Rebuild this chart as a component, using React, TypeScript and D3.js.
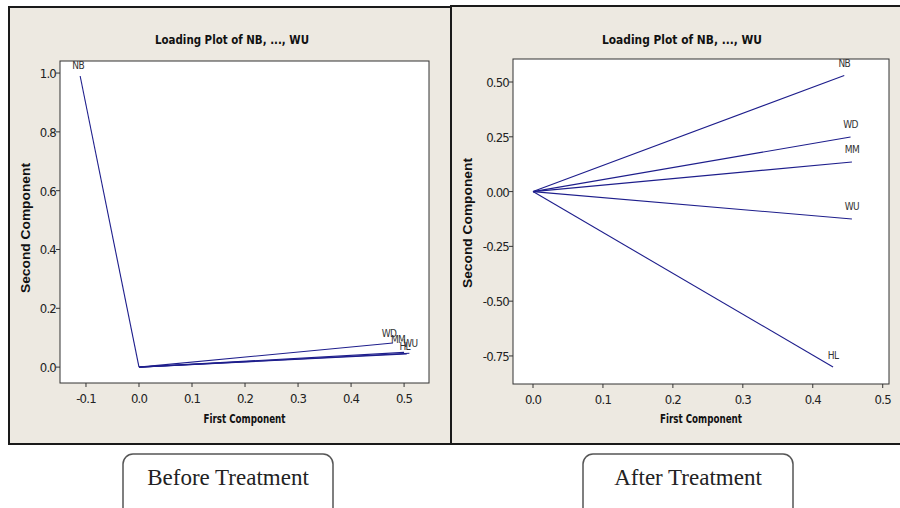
import React from "react";
import * as d3 from "d3";

// variable names (loading vectors)
const vars = ["NB", "WD", "MM", "WU", "HL"];

// before treatment loadings
const beforePC1 = [-0.111, 0.479, 0.5, 0.51, 0.505];
const beforePC2 = [0.99, 0.082, 0.05, 0.047, 0.045];

// after treatment loadings
const afterPC1 = [0.445, 0.454, 0.456, 0.456, 0.429];
const afterPC2 = [0.53, 0.249, 0.135, -0.125, -0.8];

const beforeXTicks = [-0.1, 0.0, 0.1, 0.2, 0.3, 0.4, 0.5];
const beforeYTicks = [0.0, 0.2, 0.4, 0.6, 0.8, 1.0];
const afterXTicks = [0.0, 0.1, 0.2, 0.3, 0.4, 0.5];
const afterYTicks = [-0.75, -0.5, -0.25, 0.0, 0.25, 0.5];

const title = "Loading Plot of NB, ..., WU";
const captions = ["Before Treatment", "After Treatment"];

const narrow = "'DejaVu Sans Condensed', 'Liberation Sans Narrow', Arial, sans-serif";
const lineColor = "#1e1e8c";

// plain hyphen instead of d3's unicode minus
const fmt = (spec: string) => {
  const f = d3.format(spec);
  return (v: number) => f(v).replace("\u2212", "-");
};

type PanelProps = {
  frame: { x: number; y: number; w: number; h: number };
  xs: d3.ScaleLinear<number, number>;
  ys: d3.ScaleLinear<number, number>;
  px: number[];
  py: number[];
  xTicks: number[];
  yTicks: number[];
  yFmt: string;
  labelOffsets: [number, number][];
  titleX: number;
  titleW: number;
  yLabelX: number;
  yLabelY: number;
  caption: string;
  captionBox: { x: number; w: number };
};

const Panel = (p: PanelProps) => {
  const [x0, x1] = p.xs.range();
  const [y0, y1] = p.ys.range();
  const fx = fmt(".1f");
  const fy = fmt(p.yFmt);
  const line = d3.line<[number, number]>().x((d) => p.xs(d[0])).y((d) => p.ys(d[1]));
  return (
    <g>
      <rect x={p.frame.x} y={p.frame.y} width={p.frame.w} height={p.frame.h} fill="#ede9e1" stroke="#1a1a1a" strokeWidth={2} />
      <text x={p.titleX} y={44} textAnchor="middle" fontFamily={narrow} fontWeight="bold" fontSize={13} textLength={p.titleW} lengthAdjust="spacingAndGlyphs" fill="#111">
        {title}
      </text>
      <rect x={x0} y={y1} width={x1 - x0} height={y0 - y1} fill="#fff" stroke="#333" strokeWidth={1} />
      {p.xTicks.map((t) => (
        <g key={"x" + t}>
          <line x1={p.xs(t)} x2={p.xs(t)} y1={y0} y2={y0 + 4} stroke="#333" />
          <text x={p.xs(t)} y={y0 + 20} textAnchor="middle" fontFamily={narrow} fontSize={13} letterSpacing={-0.8} fill="#222">
            {fx(t)}
          </text>
        </g>
      ))}
      {p.yTicks.map((t) => (
        <g key={"y" + t}>
          <line x1={x0 - 4} x2={x0} y1={p.ys(t)} y2={p.ys(t)} stroke="#333" />
          <text x={x0 - 4} y={p.ys(t) + 5} textAnchor="end" fontFamily={narrow} fontSize={13} letterSpacing={-0.8} fill="#222">
            {fy(t)}
          </text>
        </g>
      ))}
      <text x={(x0 + x1) / 2} y={423} textAnchor="middle" fontFamily={narrow} fontWeight="bold" fontSize={12} textLength={82} lengthAdjust="spacingAndGlyphs" fill="#111">
        First Component
      </text>
      <text transform={`translate(${p.yLabelX},${p.yLabelY}) rotate(-90)`} textAnchor="middle" fontFamily="Arial, 'Liberation Sans', sans-serif" fontWeight="bold" fontSize={13} textLength={130} lengthAdjust="spacingAndGlyphs" fill="#111">
        Second Component
      </text>
      {vars.map((v, i) => (
        <g key={v}>
          <path d={line([[0, 0], [p.px[i], p.py[i]]]) || ""} fill="none" stroke={lineColor} strokeWidth={1.1} />
          <text x={p.xs(p.px[i]) + p.labelOffsets[i][0]} y={p.ys(p.py[i]) + p.labelOffsets[i][1]} textAnchor="middle" fontFamily={narrow} fontSize={10} letterSpacing={-0.6} fill="#333">
            {v}
          </text>
        </g>
      ))}
      <rect x={p.captionBox.x} y={454} width={p.captionBox.w} height={70} rx={10} ry={10} fill="#fff" stroke="#555" strokeWidth={1.5} />
      <text x={p.captionBox.x + p.captionBox.w / 2} y={485} textAnchor="middle" fontFamily="'Liberation Serif', 'Times New Roman', serif" fontSize={23} fill="#222">
        {p.caption}
      </text>
    </g>
  );
};

const App = () => {
  const bx = d3.scaleLinear().domain([-0.149, 0.547]).range([60, 429]);
  const by = d3.scaleLinear().domain([-0.054, 1.041]).range([383, 61]);
  const ax = d3.scaleLinear().domain([-0.0286, 0.509]).range([513, 889]);
  const ay = d3.scaleLinear().domain([-0.878, 0.605]).range([384, 59]);
  return (
    <svg width={900} height={508} style={{ position: "absolute", left: 0, top: 0 }}>
      <rect width={900} height={508} fill="#fff" />
      <Panel
        frame={{ x: 9, y: 7, w: 442, h: 437 }}
        xs={bx}
        ys={by}
        px={beforePC1}
        py={beforePC2}
        xTicks={beforeXTicks}
        yTicks={beforeYTicks}
        yFmt=".1f"
        labelOffsets={[[-2, -7], [-4, -6], [-6, -9], [1, -6], [-2, -4]]}
        titleX={232}
        titleW={154}
        yLabelX={30}
        yLabelY={228}
        caption={captions[0]}
        captionBox={{ x: 123, w: 210 }}
      />
      <Panel
        frame={{ x: 451, y: 6, w: 455, h: 438 }}
        xs={ax}
        ys={ay}
        px={afterPC1}
        py={afterPC2}
        xTicks={afterXTicks}
        yTicks={afterYTicks}
        yFmt=".2f"
        labelOffsets={[[0, -8], [0, -9], [0, -9], [0, -9], [0, -8]]}
        titleX={682}
        titleW={160}
        yLabelX={472}
        yLabelY={223}
        caption={captions[1]}
        captionBox={{ x: 583, w: 210 }}
      />
    </svg>
  );
};

export default App;
